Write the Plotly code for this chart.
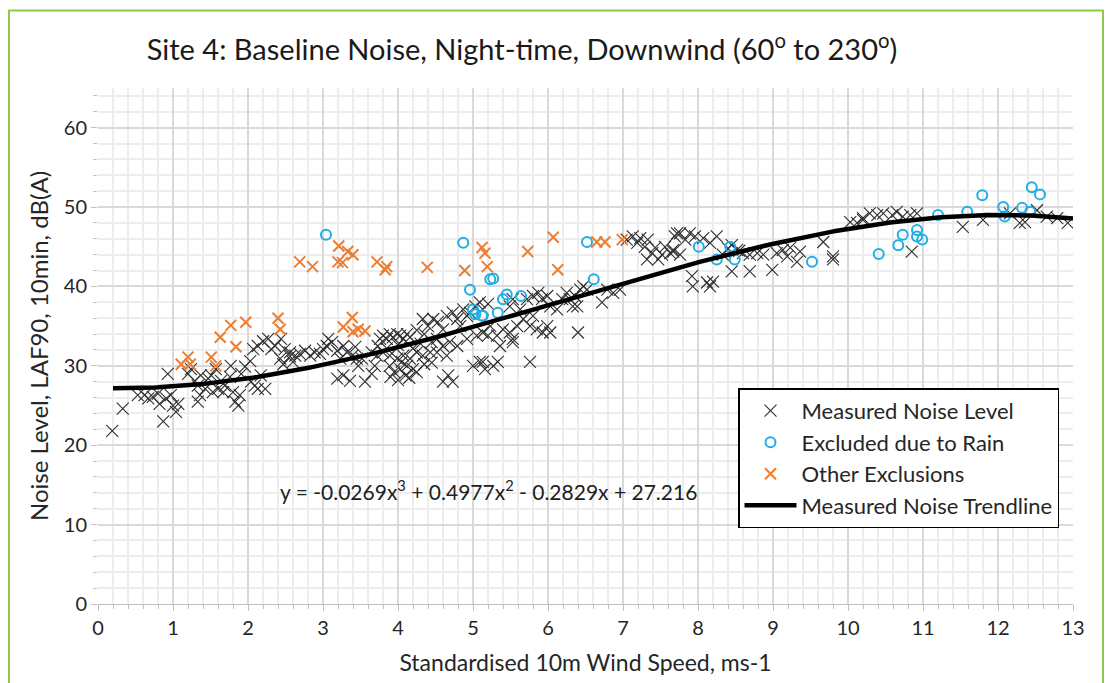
import numpy as np
import plotly.graph_objects as go

# ---------------- data ----------------
measured_x = [0.19, 0.33, 0.53, 0.62, 0.67, 0.73, 0.8, 0.82, 0.87, 0.93, 0.91, 0.97, 1.0, 1.04, 1.07,
              1.2, 1.24, 1.29, 1.33, 1.36, 1.33, 1.37, 1.43, 1.47, 1.51, 1.53, 1.57, 1.6, 1.64, 1.67,
              1.69, 1.76, 1.77, 1.8, 1.83, 1.87, 1.89, 1.91, 1.96, 2.03, 2.04, 2.09, 2.13, 2.17, 2.23,
              2.07, 2.13, 2.2, 2.27, 2.31, 2.36, 2.43, 2.47, 2.49, 2.56, 2.6, 2.44, 2.56, 2.63, 2.69,
              2.76, 2.83, 2.89, 2.96, 3.0, 3.05, 3.07, 3.12, 3.19, 3.23, 3.27, 3.32, 3.39, 3.43, 3.45,
              3.47, 3.52, 3.27, 3.19, 3.36, 3.56, 3.65, 3.69, 3.73, 3.76, 3.8, 3.85, 3.89, 3.93, 3.99,
              4.03, 4.07, 4.12, 4.16, 3.8, 3.89, 3.99, 4.07, 4.16, 4.25, 4.33, 4.43, 3.89, 4.03, 4.12,
              4.2, 3.72, 3.65, 4.33, 4.4, 4.47, 4.53, 4.6, 4.65, 4.73, 4.79, 4.83, 4.87, 4.92, 4.96,
              5.03, 5.09, 5.13, 5.2, 4.52, 4.6, 4.69, 4.79, 4.52, 4.65, 4.6, 4.73, 4.67, 5.0, 5.09,
              5.16, 5.05, 5.13, 4.92, 5.23, 5.32, 5.4, 5.49, 5.53, 5.59, 5.67, 5.76, 5.8, 5.85, 5.93,
              5.99, 6.03, 5.72, 5.8, 5.87, 5.92, 5.99, 6.03, 5.53, 5.49, 5.63, 6.12, 6.19, 6.25, 6.29,
              6.36, 6.39, 6.43, 6.47, 6.52, 6.33, 6.72, 6.4, 5.13, 5.27, 5.33, 5.76, 5.2, 5.53, 5.36,
              7.05, 7.13, 7.19, 7.23, 7.29, 7.33, 7.39, 7.43, 7.47, 7.52, 7.56, 7.63, 7.32, 7.72, 7.67,
              6.79, 6.87, 6.96, 7.69, 7.76, 7.83, 7.89, 7.96, 8.07, 8.16, 8.25, 7.67, 7.76, 7.92, 7.93,
              8.12, 8.2, 8.16, 8.45, 8.69, 8.33, 8.52, 8.6, 8.69, 8.79, 8.87, 8.99, 9.05, 9.13, 9.19,
              9.23, 9.32, 9.36, 9.67, 9.8, 9.8, 10.03, 10.12, 10.2, 10.2, 10.29, 10.39, 10.47, 10.59,
              10.65, 10.73, 10.83, 10.92, 10.85, 11.53, 11.8, 12.16, 12.29, 12.36, 12.52, 12.65, 12.79,
              12.93, 8.4, 8.45, 8.55, 3.9, 4.0, 4.1, 3.95, 4.05, 4.2, 4.3, 4.0, 3.85, 4.15, 4.25, 4.35,
              4.45, 4.45, 4.35, 4.25]
measured_y = [21.8, 24.6, 26.3, 26.3, 25.9, 26.1, 26.5, 25.2, 23.0, 29.0, 25.9, 26.3, 25.0, 24.2, 25.2,
              29.0, 29.6, 28.1, 27.5, 26.3, 25.5, 28.8, 27.1, 28.4, 28.8, 26.7, 29.6, 27.1, 28.1, 26.7,
              27.5, 28.6, 30.0, 26.7, 25.5, 25.0, 26.3, 29.0, 29.9, 30.6, 28.0, 27.5, 27.1, 28.8, 27.1,
              32.1, 32.5, 33.1, 33.4, 32.1, 32.5, 30.9, 30.2, 32.1, 31.2, 30.5, 33.4, 31.7, 31.3, 31.5,
              31.9, 31.3, 31.7, 31.5, 32.1, 32.5, 33.4, 33.0, 31.9, 30.9, 32.5, 31.7, 31.3, 32.4, 30.9,
              30.0, 30.9, 28.8, 28.4, 28.1, 28.0, 29.0, 30.0, 32.5, 33.4, 33.8, 33.4, 34.0, 33.6, 34.0,
              33.8, 33.4, 34.0, 33.6, 31.7, 31.3, 30.9, 31.3, 30.9, 31.7, 31.3, 31.7, 30.0, 29.6, 30.0,
              29.6, 31.3, 31.7, 35.9, 35.0, 35.9, 35.5, 34.6, 36.3, 36.7, 35.9, 35.0, 37.1, 36.3, 36.7,
              37.5, 38.0, 37.1, 37.8, 33.4, 32.5, 33.0, 32.5, 31.7, 31.3, 28.0, 28.0, 28.8, 30.0, 30.5,
              29.6, 33.8, 34.2, 33.4, 35.0, 33.8, 34.6, 34.2, 33.4, 35.0, 35.9, 35.0, 36.3, 34.6, 34.2,
              35.0, 34.2, 38.4, 38.8, 39.2, 38.4, 38.8, 37.5, 38.4, 37.5, 37.1, 37.1, 38.4, 39.2, 38.4,
              38.8, 37.5, 39.6, 40.0, 39.6, 37.5, 38.0, 34.2, 30.5, 30.0, 30.5, 30.5, 33.8, 33.0, 32.5,
              45.9, 46.3, 45.5, 46.1, 45.0, 45.9, 44.2, 44.9, 43.4, 44.0, 45.0, 44.2, 43.4, 46.7, 44.6,
              39.6, 39.2, 39.6, 46.3, 46.7, 45.9, 46.7, 46.3, 46.1, 45.5, 46.3, 44.4, 44.0, 41.3, 40.0,
              40.5, 40.6, 40.0, 41.9, 41.9, 44.0, 44.6, 44.2, 44.0, 44.2, 44.0, 42.1, 44.2, 44.6, 43.8,
              44.9, 43.1, 44.4, 45.6, 43.8, 43.4, 48.1, 48.0, 48.6, 48.4, 49.2, 49.0, 49.2, 49.0,
              49.4, 48.8, 49.0, 49.2, 44.4, 47.5, 48.4, 49.2, 48.0, 48.1, 49.6, 48.8, 48.6,
              48.0, 44.8, 45.2, 44.5, 28.6, 28.2, 28.8, 29.2, 30.5, 32.2, 32.8, 32.6, 32.2, 28.5, 29.2, 30.2,
              30.4, 33.0, 34.0, 34.5]

rain_x = [3.04, 4.87, 4.96, 5.0, 5.03, 5.12, 5.23, 5.27, 5.13, 5.33, 5.4, 5.45, 5.64, 6.52, 6.61,
          8.01, 8.25, 8.43, 8.49, 9.52, 10.41, 10.67, 10.73, 10.92, 10.92, 10.99, 11.2, 11.59, 11.79,
          12.07, 12.09, 12.32, 12.43, 12.45, 12.56]
rain_y = [46.5, 45.5, 39.6, 37.1, 36.5, 36.3, 40.9, 41.0, 36.3, 36.7, 38.4, 39.0, 38.8, 45.6, 40.9,
          45.0, 43.4, 45.0, 43.4, 43.1, 44.1, 45.2, 46.5, 47.1, 46.3, 45.9, 49.0, 49.4, 51.5,
          50.0, 48.8, 49.9, 49.4, 52.5, 51.6]

other_x = [1.11, 1.2, 1.23, 1.51, 1.57, 1.63, 1.77, 1.84, 1.97, 2.4, 2.43, 2.69, 2.86, 3.21, 3.2,
           3.26, 3.33, 3.4, 3.72, 3.85, 3.83, 4.39, 4.89, 5.12, 5.16, 5.19, 3.27, 3.39, 3.4, 3.47,
           3.56, 5.73, 6.07, 6.13, 6.65, 6.76, 6.99]
other_y = [30.2, 31.1, 30.2, 31.1, 30.0, 33.6, 35.1, 32.4, 35.5, 36.0, 34.6, 43.1, 42.5, 45.1, 43.1,
           43.0, 44.4, 44.0, 43.1, 42.5, 42.1, 42.4, 42.0, 44.9, 44.2, 42.5, 34.9, 36.1, 34.3, 34.6,
           34.4, 44.4, 46.2, 42.1, 45.6, 45.6, 45.9]

# trendline coefficients as printed on the chart (x^3, x^2, x, const)
trend_coeffs = [-0.0269, 0.4977, -0.2829, 27.216]
trend_range = [0.2, 13.0]

title_text = "Site 4: Baseline Noise, Night-time, Downwind (60<sup>o</sup> to 230<sup>o</sup>)"
x_title = "Standardised 10m Wind Speed, ms-1"
y_title = "Noise Level, LAF90, 10min, dB(A)"
equation_text = "y = -0.0269x<sup>3</sup> + 0.4977x<sup>2</sup> - 0.2829x + 27.216"

# ---------------- figure ----------------
FONT = "Lato"
W, H = 1104, 675
L, R, T, B = 90, 39, 80, 76
PW, PH = W - L - R, H - T - B

trend_x = np.linspace(trend_range[0], trend_range[1], 300)
trend_y = np.polyval(trend_coeffs, trend_x)

fig = go.Figure()
fig.add_trace(go.Scatter(
    x=measured_x, y=measured_y, mode="markers", name="Measured Noise Level",
    marker=dict(symbol="x-thin-open", size=12, color="#2e2e2e", line=dict(width=1.1, color="#2e2e2e")),
))
fig.add_trace(go.Scatter(
    x=rain_x, y=rain_y, mode="markers", name="Excluded due to Rain",
    marker=dict(symbol="circle-open", size=10, color="#1FAEE6", line=dict(width=2, color="#1FAEE6")),
))
fig.add_trace(go.Scatter(
    x=other_x, y=other_y, mode="markers", name="Other Exclusions",
    marker=dict(symbol="x-thin-open", size=11, color="#ED7D31", line=dict(width=2, color="#ED7D31")),
))
fig.add_trace(go.Scatter(
    x=trend_x, y=trend_y, mode="lines", name="Measured Noise Trendline",
    line=dict(color="black", width=4.5),
))

fig.add_annotation(
    x=5.2, y=14.4, xref="x", yref="y", text=equation_text, showarrow=False,
    font=dict(family=FONT, size=21, color="#202020"),
)

# green outer border
fig.add_shape(type="rect", xref="paper", yref="paper",
              x0=(1 - L) / PW, x1=(1095 - L) / PW,
              y0=(PH + T - 700) / PH, y1=(PH + T - 2) / PH,
              line=dict(color="#8CCB4A", width=2), fillcolor="rgba(0,0,0,0)", layer="below")

fig.update_layout(
    width=W, height=H,
    margin=dict(l=L, r=R, t=T, b=B),
    paper_bgcolor="white", plot_bgcolor="white",
    font=dict(family=FONT, color="#262626"),
    title=dict(text=title_text, xref="container", yref="container", x=514 / W, y=1 - 42 / H,
               xanchor="center", yanchor="middle", font=dict(family=FONT, size=29, color="#1a1a1a")),
    showlegend=True,
    legend=dict(x=(730 - L) / PW, y=(H - B - 382) / PH, xanchor="left", yanchor="top",
                bgcolor="white", bordercolor="black", borderwidth=1.5,
                font=dict(family=FONT, size=22, color="#262626"),
                tracegroupgap=6, itemwidth=52),
    xaxis=dict(range=[0, 13], dtick=1, tick0=0, showgrid=True, gridcolor="#D9D9D9", gridwidth=1.5,
               minor=dict(dtick=0.2, showgrid=True, gridcolor="#EDEDED", gridwidth=1.5,
                          ticks="outside", ticklen=4, tickcolor="#BFBFBF"),
               ticks="outside", ticklen=6, tickcolor="#BFBFBF",
               showline=True, linecolor="#BFBFBF", linewidth=1, zeroline=False,
               tickfont=dict(family=FONT, size=20, color="#262626"),
               title=dict(text=x_title, font=dict(family=FONT, size=23, color="#262626"), standoff=16)),
    yaxis=dict(range=[0, 65], dtick=10, tick0=0, showgrid=True, gridcolor="#D9D9D9", gridwidth=1.5,
               minor=dict(dtick=2, showgrid=True, gridcolor="#EDEDED", gridwidth=1.5,
                          ticks="outside", ticklen=4, tickcolor="#BFBFBF"),
               ticks="outside", ticklen=6, tickcolor="#BFBFBF",
               showline=False, zeroline=False,
               tickfont=dict(family=FONT, size=20, color="#262626"),
               title=dict(text=y_title, font=dict(family=FONT, size=24, color="#262626"), standoff=8)),
)

fig.write_html("out.html")
